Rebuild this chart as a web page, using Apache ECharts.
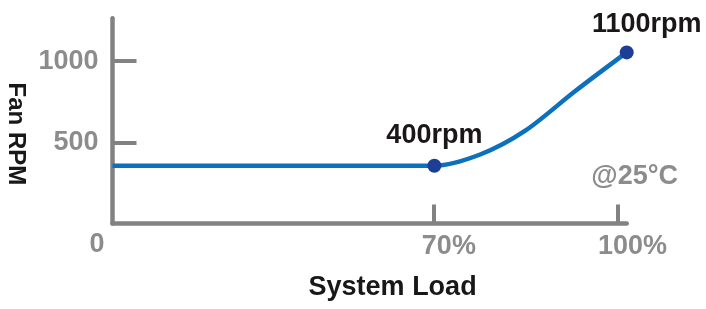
<!DOCTYPE html>
<html><head><meta charset="utf-8">
<script src="https://cdn.jsdelivr.net/npm/echarts@6/dist/echarts.min.js"></script>
<style>html,body{margin:0;padding:0;background:#fff}#c{width:706px;height:309px}</style>
</head><body><div id="c"></div>
<script>
// Curve (x in drawn axis units, y in rpm as drawn)
const curveX = [0, 62.6, 71.5, 80.2, 90.0, 100];
const curveY = [356, 356, 425, 570, 816, 1054];
// Marked points
const markX = [62.6, 100];
const markY = [356, 1054];
const markLabels = ['400rpm', '1100rpm'];
// Axis ticks
const xTickValues = [0, 62.5, 98.2];
const xTickLabels = ['0', '70%', '100%'];
const yTickValues = [500, 1000];
const yTickLabels = ['500', '1000'];

const GRAY = '#828282', LABEL = '#8c8c8c', BLUE = '#0b70bd', DARK = '#1c3e95', INK = '#1a1718';
const FONT = '"Liberation Sans", Arial, sans-serif';

const chart = echarts.init(document.getElementById('c'), null, {renderer: 'canvas'});
chart.setOption({
  animation: false,
  grid: {left: 112.5, top: 18.3, right: 79.3, bottom: 85.5, outerBoundsMode: 'none', containLabel: false},
  xAxis: {
    type: 'value', min: 0, max: 100,
    splitLine: {show: false},
    axisLine: {show: true, lineStyle: {color: GRAY, width: 4.5}},
    axisTick: {show: true, inside: true, length: 19, customValues: xTickValues.slice(1), lineStyle: {color: GRAY, width: 4}},
    axisLabel: {
      customValues: xTickValues, margin: 8,
      formatter: v => { const i = xTickValues.indexOf(v); return i === 0 ? '{z|' + xTickLabels[i] + '}' : '{p|' + xTickLabels[i] + '}'; },
      rich: {
        z: {fontSize: 27, fontWeight: 'bold', color: LABEL, fontFamily: FONT, padding: [0, 31, 0, 0]},
        p: {fontSize: 27, fontWeight: 'bold', color: LABEL, fontFamily: FONT, padding: [2, 0, 0, 30]}
      }
    },
    name: 'System Load', nameLocation: 'middle', nameGap: 51,
    nameTextStyle: {fontSize: 27, fontWeight: 'bold', color: INK, fontFamily: FONT, padding: [0, 0, 0, 46]}
  },
  yAxis: {
    type: 'value', min: 0, max: 1264,
    splitLine: {show: false},
    axisLine: {show: true, lineStyle: {color: GRAY, width: 4.5}},
    axisTick: {show: true, inside: true, length: 24, customValues: yTickValues, lineStyle: {color: GRAY, width: 4}},
    axisLabel: {
      customValues: yTickValues, margin: 14,
      formatter: v => yTickLabels[yTickValues.indexOf(v)],
      fontSize: 27, fontWeight: 'bold', color: LABEL, fontFamily: FONT, padding: [0, 0, 6, 0]
    },
    name: 'Fan RPM', nameLocation: 'middle', nameGap: 82, nameRotate: -90,
    nameTextStyle: {fontSize: 24, fontWeight: 'bold', color: INK, fontFamily: FONT, padding: [0, 0, 0, 26]}
  },
  graphic: [{
    type: 'text', right: 28, top: 163,
    style: {text: '@25°C', fontSize: 27, fontWeight: 'bold', fill: LABEL, fontFamily: FONT}
  }],
  series: [
    {
      type: 'line', data: curveX.map((x, i) => [x, curveY[i]]),
      smooth: 0.3, showSymbol: false, symbol: 'none',
      lineStyle: {color: BLUE, width: 4.5}, z: 2
    },
    {
      type: 'scatter', symbolSize: 14, itemStyle: {color: DARK, opacity: 1}, z: 3,
      data: markX.map((x, i) => ({
        value: [x, markY[i]],
        label: {
          show: true, position: 'top', distance: 10,
          offset: i === 0 ? [0, 0] : [20, 3],
          formatter: markLabels[i],
          fontSize: 27, fontWeight: 'bold', color: INK, fontFamily: FONT
        }
      }))
    }
  ]
});
</script></body></html>
